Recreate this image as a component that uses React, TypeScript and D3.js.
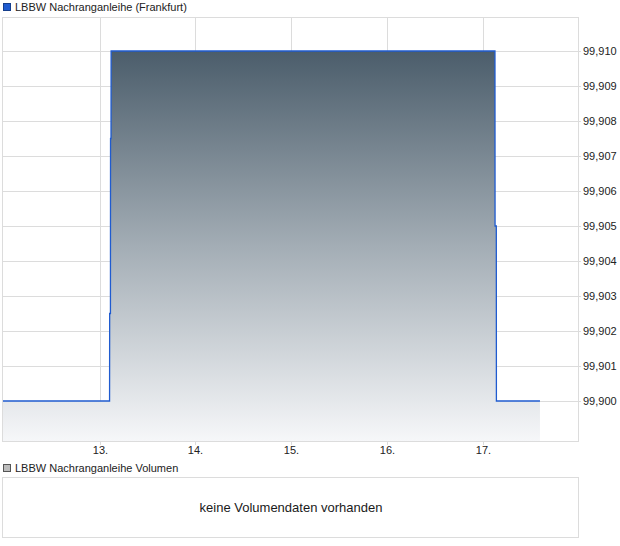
import React from "react";
import * as d3 from "d3";

// Price series: x = trading day position (day of month, fractional), y = price
const priceDays: number[] = [
  11.98, 13.1, 13.101, 13.109, 13.11, 13.115, 13.116, 17.125, 17.126, 17.139, 17.14, 17.595,
];
const priceValues: number[] = [
  99.9, 99.9, 99.9025, 99.9025, 99.9075, 99.9075, 99.91, 99.91, 99.905, 99.905, 99.9, 99.9,
];
const dayTicks: number[] = [13, 14, 15, 16, 17];
const priceTicks: number[] = [
  99.9, 99.901, 99.902, 99.903, 99.904, 99.905, 99.906, 99.907, 99.908, 99.909, 99.91,
];
const seriesLabel = "LBBW Nachranganleihe (Frankfurt)";
const volumeLabel = "LBBW Nachranganleihe Volumen";
const volumeEmptyText = "keine Volumendaten vorhanden";

const W = 620;
const H = 546;
const plot = { left: 2, right: 578, top: 17, bottom: 441 };
const vol = { left: 2, right: 578, top: 477, bottom: 537 };
const FONT = "'Liberation Sans', Arial, sans-serif";

export default function App() {
  const x = d3
    .scaleLinear()
    .domain([13 - 98 / 95.75, 13 + 478 / 95.75])
    .range([plot.left, plot.right]);
  const y = d3
    .scaleLinear()
    .domain([99.9 - (40 / 35) * 0.001, 99.91 + (34 / 35) * 0.001])
    .range([plot.bottom, plot.top]);

  const data = priceDays.map((d, i) => ({ d, v: priceValues[i] }));
  const line = d3
    .line<{ d: number; v: number }>()
    .x((p) => x(p.d))
    .y((p) => y(p.v));
  const area = d3
    .area<{ d: number; v: number }>()
    .x((p) => x(p.d))
    .y0(plot.bottom)
    .y1((p) => y(p.v));

  const fmt = (v: number) => d3.format(".3f")(v).replace(".", ",");
  const maxV = d3.max(priceValues) as number;

  return (
    <svg
      width={W}
      height={H}
      style={{ position: "absolute", left: 0, top: 0, background: "#fff" }}
      fontFamily={FONT}
    >
      <defs>
        <linearGradient
          id="priceFill"
          gradientUnits="userSpaceOnUse"
          x1={0}
          x2={0}
          y1={y(maxV)}
          y2={plot.bottom}
        >
          <stop offset="0%" stopColor="#4b5d6b" />
          <stop offset="50%" stopColor="#a3adb5" />
          <stop offset="100%" stopColor="#f6f7f9" />
        </linearGradient>
      </defs>

      {/* legend */}
      <rect x={3.5} y={3.5} width={7} height={7} fill="#1f5bd0" stroke="#163f8c" />
      <text x={15} y={10.5} fontSize={11} fill="#222">
        {seriesLabel}
      </text>

      {/* grid */}
      {priceTicks.map((t) => (
        <line
          key={"h" + t}
          x1={plot.left}
          x2={plot.right + 3}
          y1={Math.round(y(t)) + 0.5}
          y2={Math.round(y(t)) + 0.5}
          stroke="#dcdcdc"
        />
      ))}
      {dayTicks.map((t) => (
        <line
          key={"v" + t}
          x1={Math.floor(x(t)) + 0.5}
          x2={Math.floor(x(t)) + 0.5}
          y1={plot.top}
          y2={plot.bottom + 4}
          stroke="#dcdcdc"
        />
      ))}

      {/* price area and line */}
      <path d={area(data) ?? ""} fill="url(#priceFill)" />
      <path d={line(data) ?? ""} fill="none" stroke="#1f5bd0" strokeWidth={1.3} />

      {/* frame */}
      <rect
        x={plot.left + 0.5}
        y={plot.top + 0.5}
        width={plot.right - plot.left}
        height={plot.bottom - plot.top}
        fill="none"
        stroke="#dcdcdc"
      />

      {/* axis labels */}
      {priceTicks.map((t) => (
        <text key={"yl" + t} x={583} y={y(t) + 4} fontSize={11} fill="#222">
          {fmt(t)}
        </text>
      ))}
      {dayTicks.map((t) => (
        <text
          key={"xl" + t}
          x={Math.floor(x(t)) + 0.5}
          y={454}
          fontSize={11}
          fill="#222"
          textAnchor="middle"
        >
          {t + "."}
        </text>
      ))}

      {/* volume panel */}
      <rect x={3.5} y={464.5} width={7} height={7} fill="#bdbdbd" stroke="#555" />
      <text x={15} y={471.5} fontSize={11} fill="#222">
        {volumeLabel}
      </text>
      <rect
        x={vol.left + 0.5}
        y={vol.top + 0.5}
        width={vol.right - vol.left}
        height={vol.bottom - vol.top}
        fill="#fff"
        stroke="#dcdcdc"
      />
      <text
        x={(vol.left + vol.right) / 2 + 1}
        y={(vol.top + vol.bottom) / 2 + 4.5}
        fontSize={13}
        fill="#1a1a1a"
        textAnchor="middle"
      >
        {volumeEmptyText}
      </text>
    </svg>
  );
}
